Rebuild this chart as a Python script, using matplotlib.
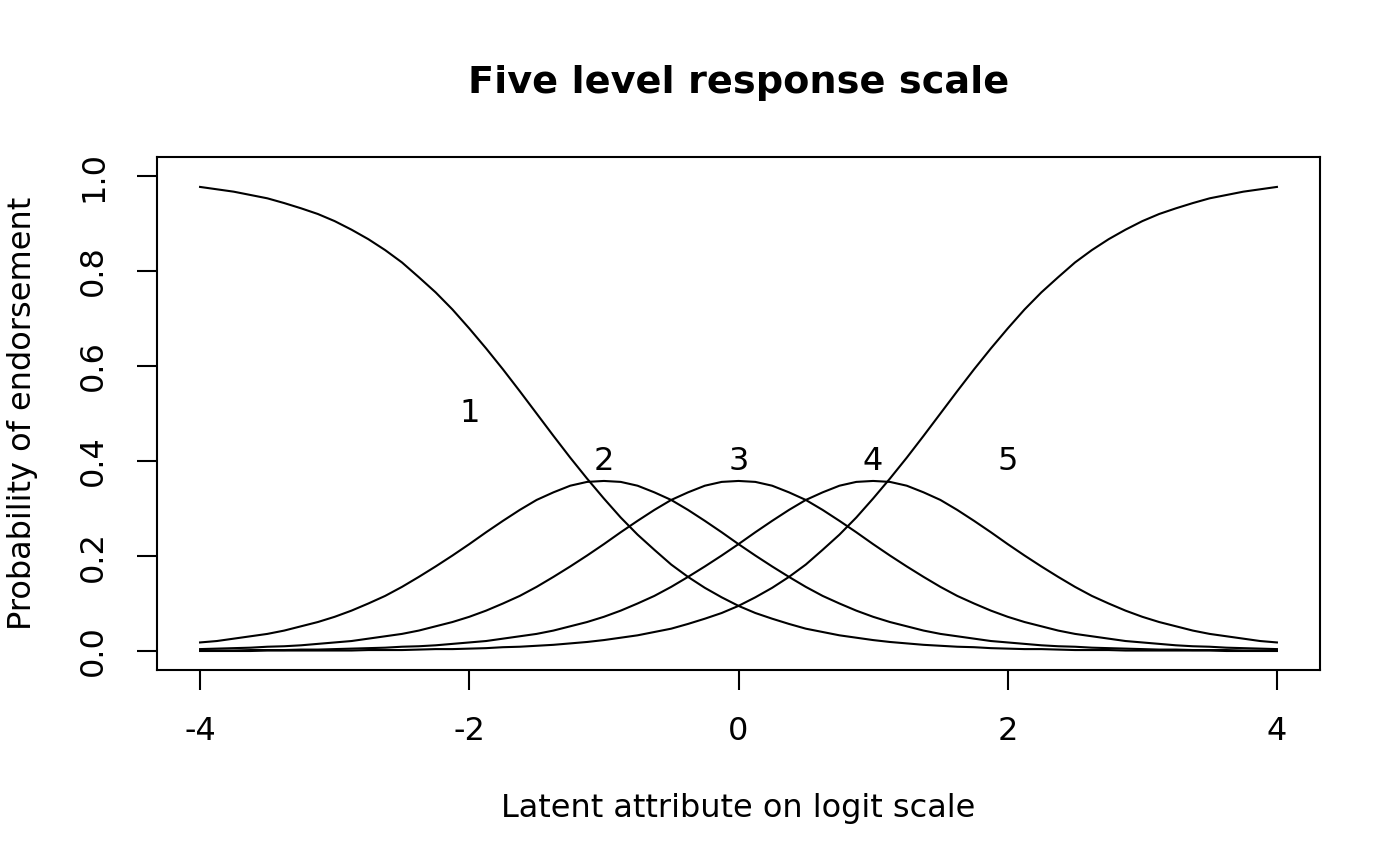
"""Five level response scale: category probability curves on the logit scale."""

import matplotlib
matplotlib.use("Agg")
import matplotlib.pyplot as plt

# latent attribute grid (logits), 1/8 logit apart
theta = [-4.000, -3.875, -3.750, -3.625, -3.500, -3.375, -3.250, -3.125,
         -3.000, -2.875, -2.750, -2.625, -2.500, -2.375, -2.250, -2.125,
         -2.000, -1.875, -1.750, -1.625, -1.500, -1.375, -1.250, -1.125,
         -1.000, -0.875, -0.750, -0.625, -0.500, -0.375, -0.250, -0.125,
         0.000, 0.125, 0.250, 0.375, 0.500, 0.625, 0.750, 0.875,
         1.000, 1.125, 1.250, 1.375, 1.500, 1.625, 1.750, 1.875,
         2.000, 2.125, 2.250, 2.375, 2.500, 2.625, 2.750, 2.875,
         3.000, 3.125, 3.250, 3.375, 3.500, 3.625, 3.750, 3.875, 4.000]

# probability of endorsing each category
p_cat1 = [0.977, 0.972, 0.967, 0.960, 0.953, 0.943, 0.932, 0.920, 0.905, 0.887,
          0.867, 0.844, 0.818, 0.787, 0.755, 0.719, 0.679, 0.637, 0.593, 0.547,
          0.500, 0.453, 0.407, 0.363, 0.321, 0.281, 0.245, 0.213, 0.182, 0.156,
          0.133, 0.113, 0.095, 0.080, 0.068, 0.057, 0.047, 0.040, 0.033, 0.028,
          0.023, 0.019, 0.016, 0.013, 0.011, 0.009, 0.008, 0.006, 0.005, 0.004,
          0.004, 0.003, 0.002, 0.002, 0.002, 0.001, 0.001, 0.001, 0.001, 0.001,
          0.001, 0.000, 0.000, 0.000, 0.000]
p_cat2 = [0.018, 0.021, 0.026, 0.031, 0.036, 0.043, 0.052, 0.061, 0.072, 0.085,
          0.100, 0.116, 0.135, 0.156, 0.178, 0.201, 0.225, 0.250, 0.274, 0.297,
          0.318, 0.334, 0.348, 0.356, 0.358, 0.356, 0.348, 0.334, 0.318, 0.297,
          0.274, 0.250, 0.225, 0.201, 0.178, 0.156, 0.135, 0.116, 0.100, 0.085,
          0.072, 0.061, 0.052, 0.043, 0.036, 0.031, 0.026, 0.021, 0.018, 0.015,
          0.012, 0.010, 0.009, 0.007, 0.006, 0.005, 0.004, 0.003, 0.003, 0.002,
          0.002, 0.002, 0.001, 0.001, 0.001]
p_cat3 = [0.004, 0.005, 0.006, 0.007, 0.009, 0.010, 0.012, 0.015, 0.018, 0.021,
          0.026, 0.031, 0.036, 0.043, 0.052, 0.061, 0.072, 0.085, 0.100, 0.116,
          0.135, 0.156, 0.178, 0.201, 0.225, 0.250, 0.274, 0.297, 0.318, 0.334,
          0.348, 0.356, 0.358, 0.356, 0.348, 0.334, 0.318, 0.297, 0.274, 0.250,
          0.225, 0.201, 0.178, 0.156, 0.135, 0.116, 0.100, 0.085, 0.072, 0.061,
          0.052, 0.043, 0.036, 0.031, 0.026, 0.021, 0.018, 0.015, 0.012, 0.010,
          0.009, 0.007, 0.006, 0.005, 0.004]
p_cat4 = [0.001, 0.001, 0.001, 0.002, 0.002, 0.002, 0.003, 0.003, 0.004, 0.005,
          0.006, 0.007, 0.009, 0.010, 0.012, 0.015, 0.018, 0.021, 0.026, 0.031,
          0.036, 0.043, 0.052, 0.061, 0.072, 0.085, 0.100, 0.116, 0.135, 0.156,
          0.178, 0.201, 0.225, 0.250, 0.274, 0.297, 0.318, 0.334, 0.348, 0.356,
          0.358, 0.356, 0.348, 0.334, 0.318, 0.297, 0.274, 0.250, 0.225, 0.201,
          0.178, 0.156, 0.135, 0.116, 0.100, 0.085, 0.072, 0.061, 0.052, 0.043,
          0.036, 0.031, 0.026, 0.021, 0.018]
p_cat5 = [0.000, 0.000, 0.000, 0.000, 0.001, 0.001, 0.001, 0.001, 0.001, 0.001,
          0.002, 0.002, 0.002, 0.003, 0.004, 0.004, 0.005, 0.006, 0.008, 0.009,
          0.011, 0.013, 0.016, 0.019, 0.023, 0.028, 0.033, 0.040, 0.047, 0.057,
          0.068, 0.080, 0.095, 0.113, 0.133, 0.156, 0.182, 0.213, 0.245, 0.281,
          0.321, 0.363, 0.407, 0.453, 0.500, 0.547, 0.593, 0.637, 0.679, 0.719,
          0.755, 0.787, 0.818, 0.844, 0.867, 0.887, 0.905, 0.920, 0.932, 0.943,
          0.953, 0.960, 0.967, 0.972, 0.977]

# category labels and where they sit
cat_labels = ["1", "2", "3", "4", "5"]
label_x = [-2, -1, 0, 1, 2]
label_y = [0.5, 0.4, 0.4, 0.4, 0.4]

x_ticks = [-4, -2, 0, 2, 4]
y_ticks = [0.0, 0.2, 0.4, 0.6, 0.8, 1.0]

plt.rcParams["font.family"] = ["DejaVu Sans"]
FS = 23

fig = plt.figure(figsize=(14, 8.66), dpi=100)
# plot region in R's place: box from (157, 157) to (1320, 670) px
ax = fig.add_axes([157 / 1400, 1 - 670 / 866, (1320 - 157) / 1400, (670 - 157) / 866])

for p in (p_cat1, p_cat2, p_cat3, p_cat4, p_cat5):
    ax.plot(theta, p, color="black", lw=1.5)

for lab, lx, ly in zip(cat_labels, label_x, label_y):
    ax.text(lx, ly, lab, ha="center", va="center", fontsize=FS)

ax.set_xlim(-4.32, 4.32)          # R's 4% axis padding
ax.set_ylim(-0.04, 1.04)
ax.set_xticks(x_ticks)
ax.set_xticklabels([f"{t:d}" for t in x_ticks])
ax.set_yticks(y_ticks)
ax.set_yticklabels([f"{t:.1f}" for t in y_ticks], rotation=90, va="center")

for s in ax.spines.values():
    s.set_linewidth(1.5)
ax.tick_params(length=14.4, width=1.5, labelsize=FS, direction="out")
ax.tick_params(axis="x", pad=19)
ax.tick_params(axis="y", pad=20)

ax.set_xlabel("Latent attribute on logit scale", fontsize=FS, labelpad=33)
ax.set_ylabel("Probability of endorsement", fontsize=FS, labelpad=29)
ax.set_title("Five level response scale", fontsize=27.5, fontweight="bold", pad=46)

fig.savefig("out.png", dpi=100)
